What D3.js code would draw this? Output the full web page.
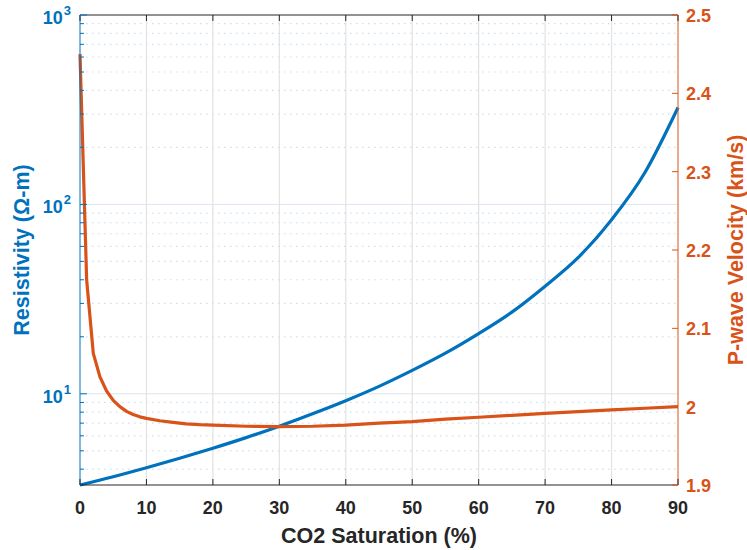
<!DOCTYPE html>
<html>
<head>
<meta charset="utf-8">
<script src="https://cdn.jsdelivr.net/npm/d3@7"></script>
<style>
  body { margin: 0; background: #fff; }
  text { font-family: "Liberation Sans", Arial, sans-serif; font-weight: bold; }
</style>
</head>
<body>
<div id="container-chart"></div>
<script>

// CO2 saturation (%) vs resistivity (left, log axis)
var satRes = [0, 5, 10, 15, 20, 25, 30, 35, 40, 45, 50, 55, 60, 65, 70, 75, 80, 85, 90];
var resistivity = [3.3, 3.65, 4.07, 4.57, 5.16, 5.87, 6.75, 7.85, 9.2, 10.95, 13.3, 16.4, 20.8, 27.0, 37.0, 52.5, 83, 147, 325];

// CO2 saturation (%) vs P-wave velocity (right axis)
var satVel = [0, 1, 2, 3, 4, 5, 6, 7, 8, 9, 10, 12, 14, 16, 18, 20, 25, 30, 35, 40, 45, 50, 55, 60, 65, 70, 75, 80, 85, 90];
var velocity = [2.45, 2.162, 2.068, 2.038, 2.02, 2.008, 2.0, 1.994, 1.99, 1.987, 1.985, 1.982, 1.98, 1.978, 1.977, 1.9765, 1.975, 1.9745, 1.975, 1.9765, 1.979, 1.981, 1.984, 1.9865, 1.989, 1.9915, 1.9937, 1.996, 1.998, 2.0];

var xTicks = [0, 10, 20, 30, 40, 50, 60, 70, 80, 90];
var leftTicks = [10, 100, 1000];
var leftTickExp = ["1", "2", "3"];
var rightTicks = [1.9, 2.0, 2.1, 2.2, 2.3, 2.4, 2.5];
var rightTickLabels = ["1.9", "2", "2.1", "2.2", "2.3", "2.4", "2.5"];

var blue = "#0072BD", orange = "#D95319", dark = "#262626";

var width = 747, height = 550;
var pLeft = 80, pRight = 678, pTop = 15, pBottom = 485;

var x = d3.scaleLinear().domain([0, 90]).range([pLeft, pRight]);
var yL = d3.scaleLog().domain([3.3, 1000]).range([pBottom, pTop]);
var yR = d3.scaleLinear().domain([1.9, 2.5]).range([pBottom, pTop]);

var svg = d3.select("#container-chart")
            .append("svg")
            .attr("width", width)
            .attr("height", height);

// minor log grid (dotted)
var minors = [];
[1, 10, 100].forEach(function(dec){
  for (var k = 2; k <= 9; k++) {
    var v = k * dec;
    if (v > 3.3 && v < 1000) minors.push(v);
  }
});

svg.append("g").selectAll("line")
  .data(minors)
  .enter()
  .append("line")
  .attr("x1", pLeft).attr("x2", pRight)
  .attr("y1", function(d){ return yL(d); })
  .attr("y2", function(d){ return yL(d); })
  .style("stroke", "#c9dff0")
  .style("stroke-width", 1.2)
  .style("stroke-dasharray", "1.5,4.5");

// major grid
svg.append("g").selectAll("line")
  .data(leftTicks.filter(function(d){ return d < 1000; }))
  .enter()
  .append("line")
  .attr("x1", pLeft).attr("x2", pRight)
  .attr("y1", function(d){ return yL(d); })
  .attr("y2", function(d){ return yL(d); })
  .style("stroke", "#dbe5ee")
  .style("stroke-width", 1);

svg.append("g").selectAll("line")
  .data(xTicks.slice(1, -1))
  .enter()
  .append("line")
  .attr("x1", function(d){ return x(d); })
  .attr("x2", function(d){ return x(d); })
  .attr("y1", pTop).attr("y2", pBottom)
  .style("stroke", "#e2e2e2")
  .style("stroke-width", 1.2);

// curves
var resLine = d3.line()
  .x(function(d, i){ return x(satRes[i]); })
  .y(function(d){ return yL(d); })
  .curve(d3.curveMonotoneX);

var velLine = d3.line()
  .x(function(d, i){ return x(satVel[i]); })
  .y(function(d){ return yR(d); });

svg.append("path")
  .attr("d", resLine(resistivity))
  .style("fill", "none")
  .style("stroke", blue)
  .style("stroke-width", 3.2);

svg.append("path")
  .attr("d", velLine(velocity))
  .style("fill", "none")
  .style("stroke", orange)
  .style("stroke-width", 3.2)
  .style("stroke-linejoin", "round");

// box
svg.append("line").attr("x1", pLeft).attr("x2", pRight).attr("y1", pTop).attr("y2", pTop)
  .style("stroke", dark).style("stroke-width", 1);
svg.append("line").attr("x1", pLeft).attr("x2", pRight).attr("y1", pBottom).attr("y2", pBottom)
  .style("stroke", dark).style("stroke-width", 1);
svg.append("line").attr("x1", pLeft).attr("x2", pLeft).attr("y1", pTop).attr("y2", pBottom)
  .style("stroke", blue).style("stroke-width", 1);
svg.append("line").attr("x1", pRight).attr("x2", pRight).attr("y1", pTop).attr("y2", pBottom)
  .style("stroke", orange).style("stroke-width", 1);

// x ticks (bottom and top, inward)
var xt = svg.append("g");
xt.selectAll("line.b")
  .data(xTicks)
  .enter()
  .append("line")
  .attr("class", "b")
  .attr("x1", function(d){ return x(d); })
  .attr("x2", function(d){ return x(d); })
  .attr("y1", pBottom).attr("y2", pBottom - 6)
  .style("stroke", dark);
xt.selectAll("line.t")
  .data(xTicks)
  .enter()
  .append("line")
  .attr("class", "t")
  .attr("x1", function(d){ return x(d); })
  .attr("x2", function(d){ return x(d); })
  .attr("y1", pTop).attr("y2", pTop + 6)
  .style("stroke", dark);

xt.selectAll("text")
  .data(xTicks)
  .enter()
  .append("text")
  .attr("x", function(d){ return x(d); })
  .attr("y", 514)
  .attr("text-anchor", "middle")
  .attr("font-size", "18px")
  .text(function(d){ return d; })
  .style("fill", dark);

// left ticks
var lt = svg.append("g");
lt.selectAll("line.minor")
  .data(minors)
  .enter()
  .append("line")
  .attr("class", "minor")
  .attr("x1", pLeft).attr("x2", pLeft + 4)
  .attr("y1", function(d){ return yL(d); })
  .attr("y2", function(d){ return yL(d); })
  .style("stroke", blue);
lt.selectAll("line.major")
  .data(leftTicks)
  .enter()
  .append("line")
  .attr("class", "major")
  .attr("x1", pLeft).attr("x2", pLeft + 7)
  .attr("y1", function(d){ return yL(d); })
  .attr("y2", function(d){ return yL(d); })
  .style("stroke", blue);

var ltText = lt.selectAll("text")
  .data(leftTicks)
  .enter()
  .append("text")
  .attr("x", 71)
  .attr("y", function(d){ return yL(d) + 9; })
  .attr("text-anchor", "end")
  .attr("font-size", "18px")
  .style("fill", blue);
ltText.append("tspan").text("10");
ltText.append("tspan")
  .attr("font-size", "13px")
  .attr("dy", -9)
  .attr("dx", 1)
  .text(function(d, i){ return leftTickExp[i]; });

// right ticks
var rt = svg.append("g");
rt.selectAll("line")
  .data(rightTicks)
  .enter()
  .append("line")
  .attr("x1", pRight).attr("x2", pRight - 6)
  .attr("y1", function(d){ return yR(d); })
  .attr("y2", function(d){ return yR(d); })
  .style("stroke", orange);
rt.selectAll("text")
  .data(rightTicks)
  .enter()
  .append("text")
  .attr("x", 686)
  .attr("y", function(d){ return yR(d) + 7; })
  .attr("font-size", "18px")
  .text(function(d, i){ return rightTickLabels[i]; })
  .style("fill", orange);

// axis titles
svg.append("text")
  .attr("x", (pLeft + pRight) / 2)
  .attr("y", 543)
  .attr("text-anchor", "middle")
  .attr("font-size", "21.5px")
  .text("CO2 Saturation (%)")
  .style("fill", dark);

svg.append("text")
  .attr("transform", "translate(29," + ((pTop + pBottom) / 2) + ") rotate(-90)")
  .attr("text-anchor", "middle")
  .attr("font-size", "21.5px")
  .text("Resistivity (\u03A9-m)")
  .style("fill", blue);

svg.append("text")
  .attr("transform", "translate(743," + ((pTop + pBottom) / 2) + ") rotate(-90)")
  .attr("text-anchor", "middle")
  .attr("font-size", "21.5px")
  .text("P-wave Velocity (km/s)")
  .style("fill", orange);

</script>
</body>
</html>
